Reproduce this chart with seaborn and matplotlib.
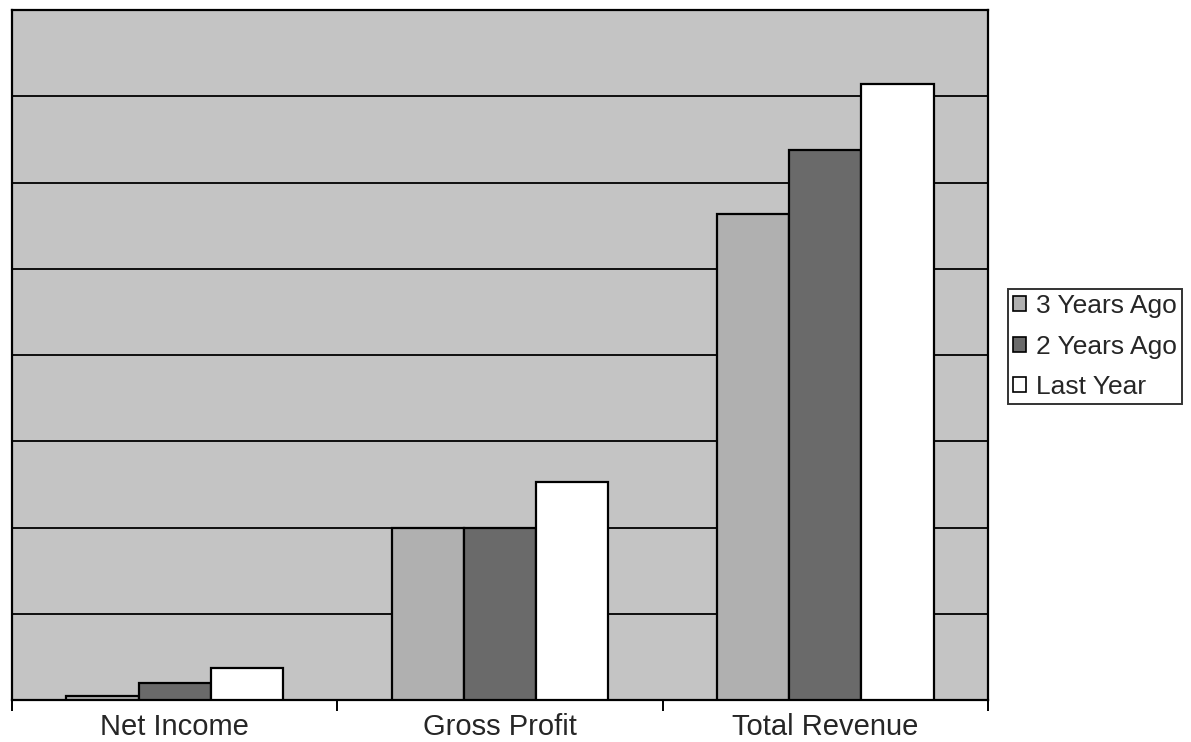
import matplotlib
matplotlib.use("Agg")
import matplotlib.pyplot as plt
from matplotlib.patches import Patch
import seaborn as sns
import pandas as pd

# Financial summary, three periods per line item
categories = ["Net Income", "Gross Profit", "Total Revenue"]
periods = ["3 Years Ago", "2 Years Ago", "Last Year"]
values_3y = [5, 200, 564]
values_2y = [20, 200, 638]
values_ly = [37, 253, 714]

period_colors = ["#b0b0b0", "#6a6a6a", "#ffffff"]
background = "#c4c4c4"

rows = []
for period, vals in zip(periods, [values_3y, values_2y, values_ly]):
    for cat, v in zip(categories, vals):
        rows.append({"Item": cat, "Period": period, "Value": v})
df = pd.DataFrame(rows)

sns.set_style("white")
plt.rcParams["font.family"] = ["Liberation Sans", "DejaVu Sans"]

fig = plt.figure(figsize=(11.91, 7.42), dpi=100)
ax = fig.add_axes([12 / 1191, 1 - 700 / 742, (988 - 12) / 1191, (700 - 10) / 742])
ax.set_facecolor(background)

sns.barplot(
    data=df, x="Item", y="Value", hue="Period", order=categories,
    hue_order=periods, palette=dict(zip(periods, period_colors)),
    width=0.665, gap=0, edgecolor="black", linewidth=1.6,
    errorbar=None, legend=False, ax=ax, zorder=3,
)

ax.set_ylim(0, 800)
ax.set_xlim(-0.5, 2.5)
ax.set_yticks(range(100, 800, 100))
ax.set_yticklabels([])
ax.tick_params(axis="y", length=0)
ax.yaxis.grid(True, color="black", linewidth=1.3, zorder=1)
ax.set_axisbelow(True)

# Category labels centred, tick marks on category boundaries
ax.set_xticks(range(len(categories)))
ax.set_xticklabels(categories, fontsize=21)
ax.tick_params(axis="x", which="major", length=0, pad=9.5)
ax.set_xticks([-0.5, 0.5, 1.5, 2.5], minor=True)
ax.tick_params(axis="x", which="minor", length=8, width=1.4, color="black",
               direction="out", bottom=True)
ax.set_xlabel("")
ax.set_ylabel("")

for side in ["left", "right", "top", "bottom"]:
    ax.spines[side].set_visible(True)
    ax.spines[side].set_color("black")
    ax.spines[side].set_linewidth(1.6)

handles = [Patch(facecolor=c, edgecolor="black", linewidth=1.2, label=p)
           for p, c in zip(periods, period_colors)]
leg = fig.legend(
    handles=handles, loc="upper left",
    bbox_to_anchor=(1008 / 1191, 1 - 289 / 742),
    fontsize=19, frameon=True, fancybox=False, shadow=False,
    handlelength=0.5, handleheight=0.5, handletextpad=0.35,
    borderpad=0.2, labelspacing=0.62, borderaxespad=0,
)
leg.get_frame().set_edgecolor("black")
leg.get_frame().set_linewidth(1.4)

fig.savefig("out.png", dpi=100, facecolor="white")
